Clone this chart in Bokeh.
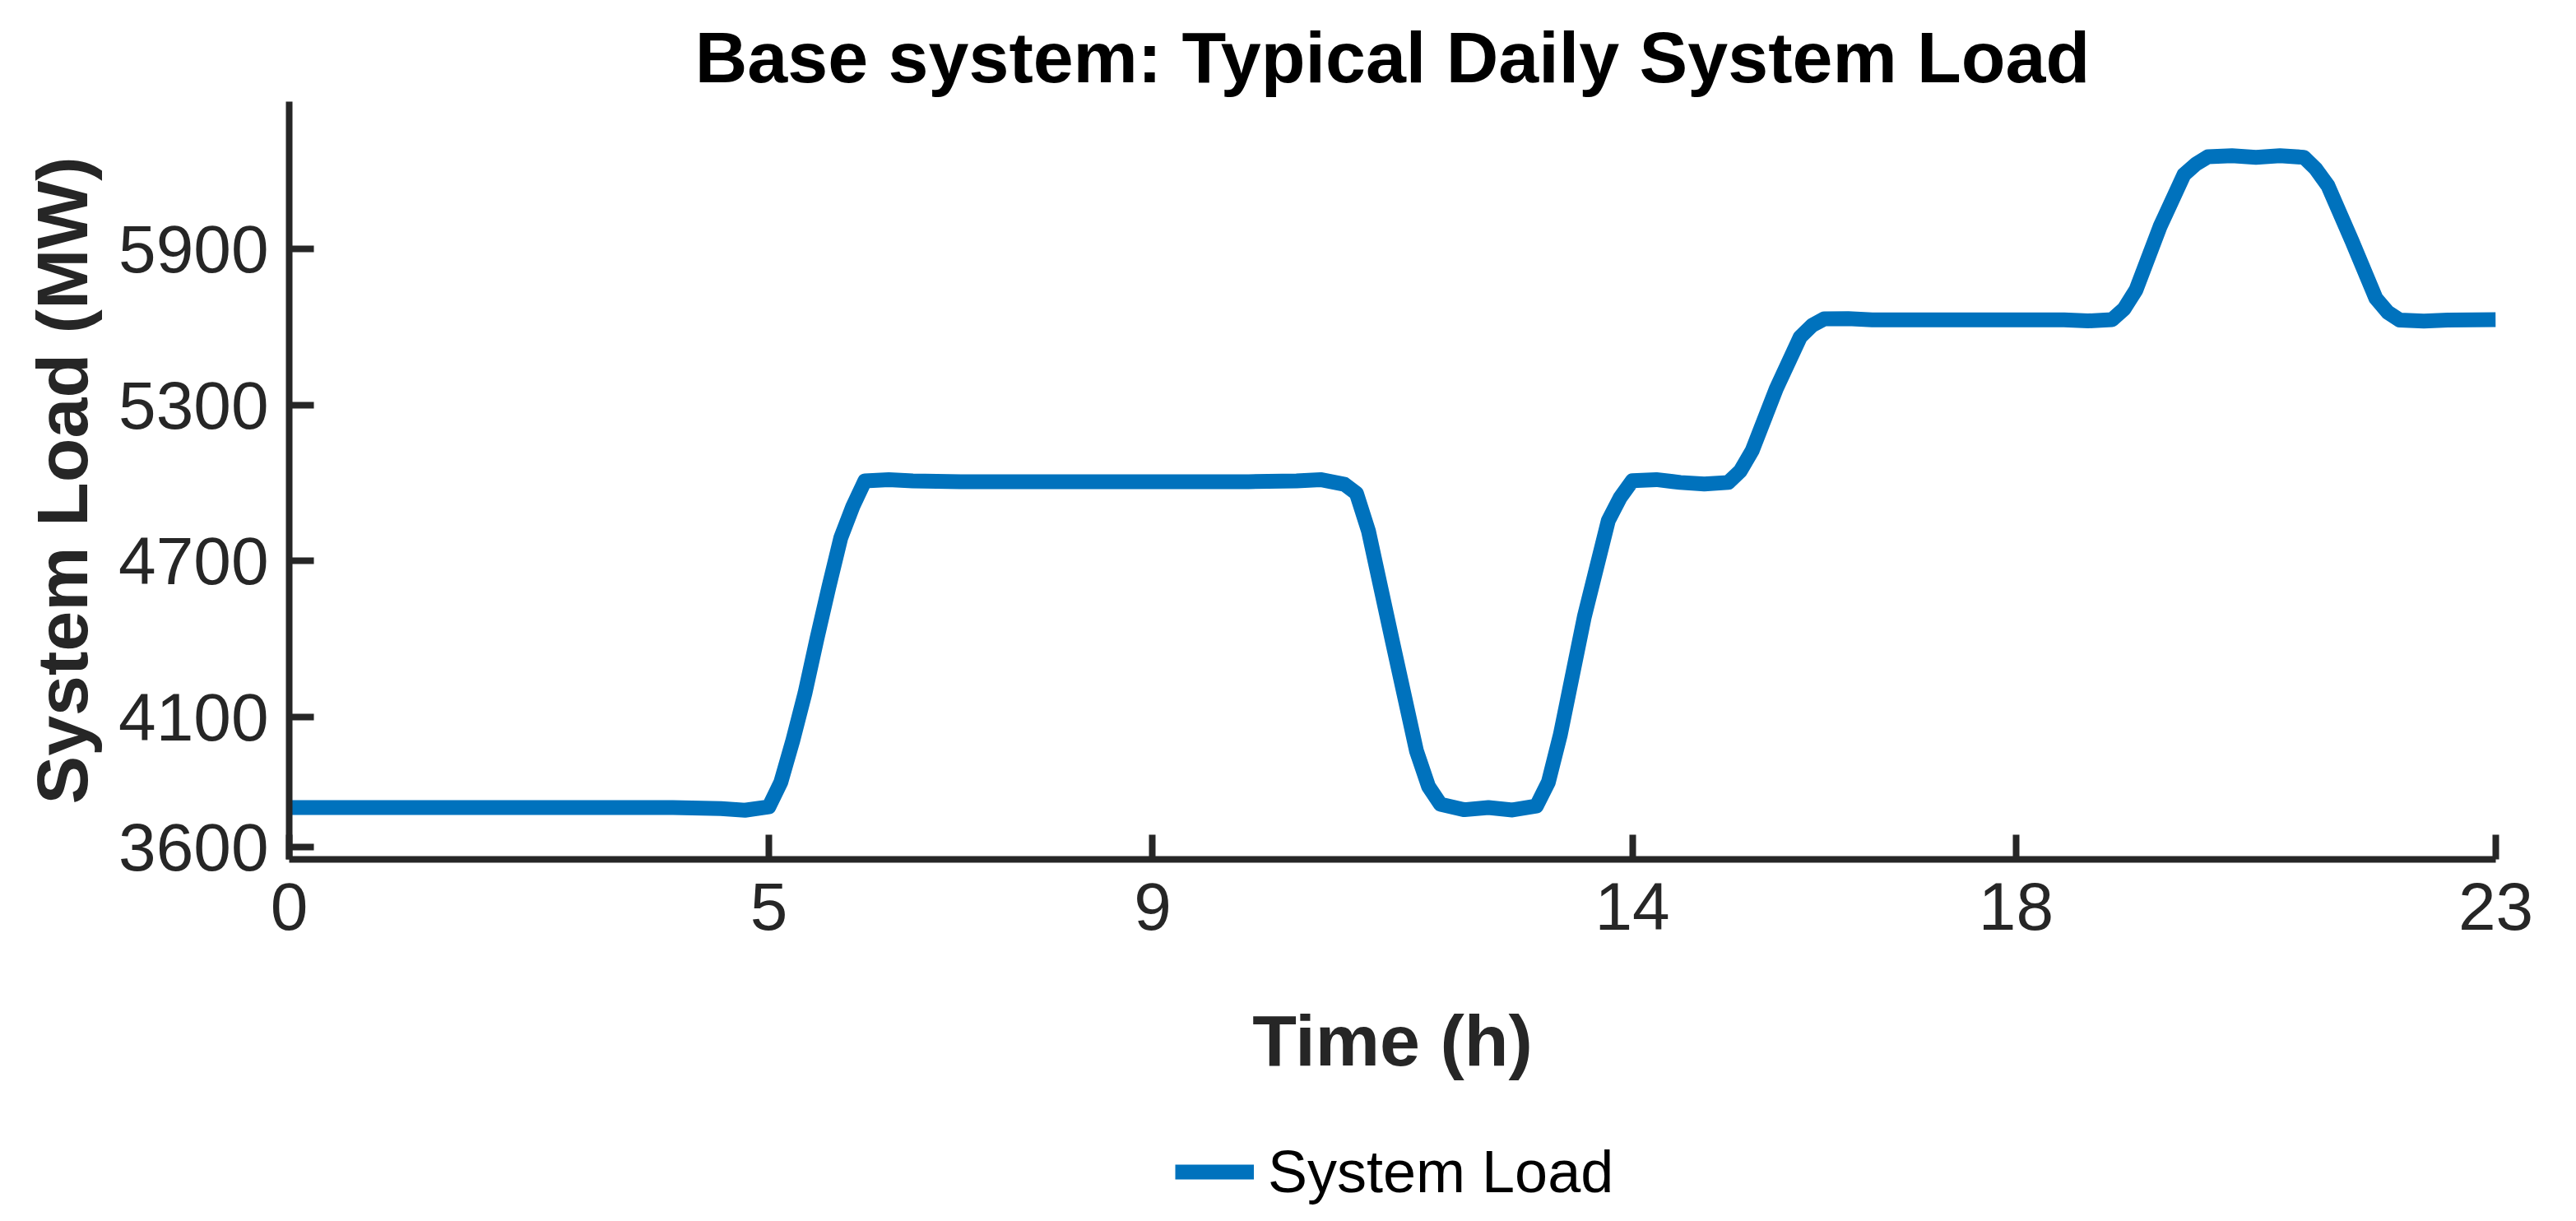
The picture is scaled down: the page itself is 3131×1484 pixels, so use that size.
from bokeh.plotting import figure
from bokeh.models import Range1d, FixedTicker, Legend, LegendItem, ColumnDataSource
from bokeh.layouts import column
from bokeh.embed import file_html
from bokeh.resources import INLINE

# ---- data ----
time_h = [0, 1, 2, 3, 4, 4.5, 4.75, 5, 5.125, 5.25, 5.375, 5.5, 5.625, 5.75, 5.875,
          6, 6.25, 6.5, 7, 8, 9, 10,
          10.5, 10.75, 11, 11.125, 11.25, 11.5, 11.75, 11.875, 12, 12.25, 12.5,
          12.75, 13, 13.125, 13.25, 13.5, 13.75, 13.875, 14, 14.25, 14.5, 14.75,
          15, 15.125, 15.25, 15.5, 15.75, 15.875, 16, 16.25,
          16.5, 17, 18, 18.5, 18.75, 19, 19.125, 19.25, 19.5, 19.75, 19.875, 20,
          20.25, 20.5, 20.75, 21, 21.125, 21.25, 21.5, 21.75, 21.875, 22, 22.25,
          22.5, 23]
load_mw = [3752, 3752, 3752, 3752, 3752, 3748, 3742, 3755, 3850, 4011, 4190, 4400,
           4600, 4790, 4910,
           5008, 5013, 5008, 5005, 5005, 5005, 5005,
           5008, 5013, 4995, 4960, 4815, 4390, 3970, 3834, 3765, 3744, 3752,
           3743, 3758, 3850, 4033, 4486, 4856, 4945, 5009, 5013, 5002, 4996,
           5002, 5046, 5125, 5362, 5561, 5606, 5631, 5632,
           5627, 5627, 5627, 5627, 5623, 5628, 5669, 5742, 5985, 6185, 6226, 6254,
           6258, 6252, 6258, 6252, 6207, 6143, 5931, 5710, 5656, 5626, 5622,
           5626, 5628]

x_ticks = [0, 5, 9, 14, 18, 23]
y_ticks = [3600, 4100, 4700, 5300, 5900]
x_limits = (0, 23)
y_limits = (3553, 6466)

title_text = "Base system: Typical Daily System Load"
x_label = "Time (h)"
y_label = "System Load (MW)"
series_name = "System Load"

FONT = "Liberation Sans"
AX = "#262626"
BLUE = "#0072BD"

W = 3114
H_MAIN = 1364
H_LEG = 102

src = ColumnDataSource(data=dict(t=time_h, mw=load_mw))

p = figure(width=W, height=H_MAIN, output_backend="svg", toolbar_location=None,
           x_range=Range1d(*x_limits), y_range=Range1d(*y_limits),
           min_border_left=351, min_border_right=81,
           min_border_top=123, min_border_bottom=H_MAIN - 123 - 921)

p.outline_line_color = None
p.background_fill_color = "white"
p.border_fill_color = "white"
p.grid.visible = False

p.title.text = title_text
p.title.text_font = FONT
p.title.text_font_size = "88px"
p.title.text_font_style = "bold"
p.title.text_color = "#000000"
p.title.align = "center"
p.title.standoff = 10

for ax in (p.xaxis[0], p.yaxis[0]):
    ax.axis_line_color = AX
    ax.axis_line_width = 8
    ax.major_tick_line_color = AX
    ax.major_tick_line_width = 8
    ax.major_tick_in = 30
    ax.major_tick_out = 0
    ax.minor_tick_line_color = None
    ax.major_label_text_font = FONT
    ax.major_label_text_font_size = "82px"
    ax.major_label_text_color = AX
    ax.axis_label_text_font = FONT
    ax.axis_label_text_font_size = "88px"
    ax.axis_label_text_font_style = "bold"
    ax.axis_label_text_color = AX

p.xaxis.ticker = FixedTicker(ticks=x_ticks)
p.yaxis.ticker = FixedTicker(ticks=y_ticks)
p.xaxis.axis_label = x_label
p.yaxis.axis_label = y_label
p.xaxis.major_label_standoff = 28
p.xaxis.axis_label_standoff = 82
p.yaxis.major_label_standoff = 25
p.yaxis.axis_label_standoff = 16

p.line("t", "mw", source=src, line_color=BLUE, line_width=18, line_join="round")

# legend strip below the axes (MATLAB 'southoutside' legend); its sample line
# shares the series data, which lies outside this strip's range and is clipped
q = figure(width=W, height=H_LEG, output_backend="svg", toolbar_location=None,
           x_range=Range1d(0, 1), y_range=Range1d(0, 1),
           min_border=0, x_axis_type=None, y_axis_type=None)
q.outline_line_color = None
q.grid.visible = False
q.background_fill_color = "white"
q.border_fill_color = "white"
lr = q.line("t", "mw", source=src, line_color=BLUE, line_width=18)

legend = Legend(items=[LegendItem(label=series_name, renderers=[lr])],
                location=(1077, 1), orientation="horizontal",
                padding=0, margin=0, spacing=0,
                border_line_color=None, background_fill_alpha=0,
                glyph_width=96, glyph_height=76, label_standoff=17,
                label_text_font=FONT, label_text_font_size="72px",
                label_text_color="#000000")
q.add_layout(legend, "center")

layout = column(p, q, spacing=0)
open("out.html", "w").write(file_html(layout, INLINE))
